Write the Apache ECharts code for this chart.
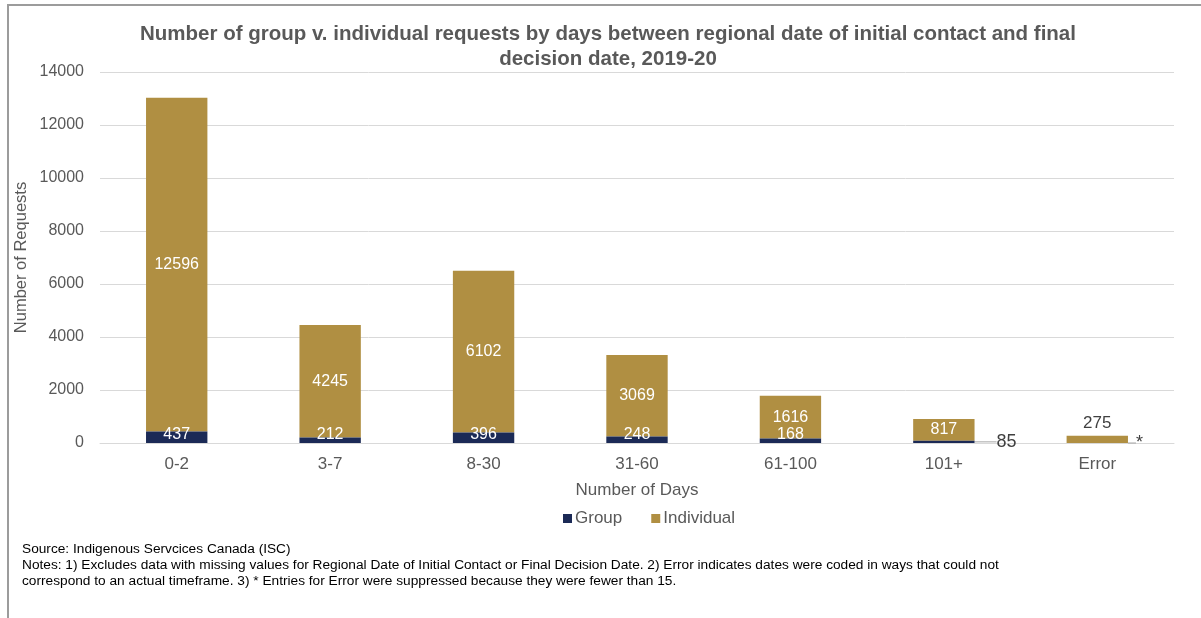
<!DOCTYPE html>
<html>
<head>
<meta charset="utf-8">
<title>Group v. individual requests by days, 2019-20</title>
<script src="https://cdn.jsdelivr.net/npm/echarts@6/dist/echarts.min.js"></script>
<style>
  html, body { margin: 0; padding: 0; background: #fff; }
  #wrap { position: relative; width: 1201px; height: 618px; overflow: hidden; }
  #chart { position: absolute; left: 0; top: 0; width: 1201px; height: 618px; }
  #frame {
    position: absolute; left: 7px; top: 4px; right: 0; bottom: 0;
    border-top: 2px solid #9c9c9c; border-left: 2px solid #9c9c9c;
    pointer-events: none;
  }
</style>
</head>
<body>
<div id="wrap">
  <div id="chart"></div>
  <div id="frame"></div>
</div>
<script>
// Days between regional date of initial contact and final decision date
const categories = ['0-2', '3-7', '8-30', '31-60', '61-100', '101+', 'Error'];
// Group requests (Error entries suppressed, shown as *)
const groupValues = [437, 212, 396, 248, 168, 85, 0];
// Individual requests
const individualValues = [12596, 4245, 6102, 3069, 1616, 817, 275];
const yTicks = { min: 0, max: 14000, interval: 2000 };

const FONT = '"Liberation Sans", Arial, sans-serif';
const GREY = '#595959';
const NAVY = '#1b2a56';
const GOLD = '#b08f42';

const chart = echarts.init(document.getElementById('chart'), null, { renderer: 'canvas' });

// Small group values sit outside their bars, joined by a leader line
const outsideShift = { '101+': 20, 'Error': 6 };

const groupData = groupValues.map((v, i) => {
  const item = { value: v };
  if (outsideShift[categories[i]] !== undefined) {
    item.label = {
      position: 'right',
      distance: 2,
      color: '#404040',
      fontSize: 18
    };
    item.labelLine = { show: true, lineStyle: { color: '#a6a6a6', width: 1 } };
  }
  return item;
});

const individualData = individualValues.map((v, i) => {
  const item = { value: v };
  if (categories[i] === 'Error') {
    item.label = { position: 'top', color: '#404040', distance: 4, fontSize: 17 };
  }
  return item;
});

chart.setOption({
  animation: false,
  textStyle: { fontFamily: FONT },
  title: {
    text: 'Number of group v. individual requests by days between regional date of initial contact and final\ndecision date, 2019-20',
    left: 603,
    top: 17,
    textAlign: 'center',
    textStyle: {
      fontFamily: FONT, fontSize: 20.5, fontWeight: 'bold', color: GREY, lineHeight: 25
    }
  },
  legend: {
    data: ['Group', 'Individual'],
    left: 558,
    top: 505,
    icon: 'rect',
    itemWidth: 9,
    itemHeight: 9,
    itemGap: 29,
    textStyle: { fontFamily: FONT, fontSize: 17, color: GREY, padding: [0, 0, 0, -2] }
  },
  grid: { left: 100, right: 27, top: 72, bottom: 175, containLabel: false },
  xAxis: {
    type: 'category',
    data: categories,
    name: 'Number of Days',
    nameLocation: 'middle',
    nameGap: 39,
    nameTextStyle: { fontFamily: FONT, fontSize: 17, color: GREY },
    axisLine: { lineStyle: { color: '#d9d9d9', width: 1 } },
    axisTick: { show: false },
    axisLabel: { fontFamily: FONT, fontSize: 17, color: GREY, margin: 13 }
  },
  yAxis: {
    type: 'value',
    min: yTicks.min,
    max: yTicks.max,
    interval: yTicks.interval,
    name: 'Number of Requests',
    nameLocation: 'middle',
    nameGap: 70,
    nameMoveOverlap: false,
    nameRotate: 90,
    nameTextStyle: { fontFamily: FONT, fontSize: 16.5, color: GREY },
    axisLine: { show: false },
    axisTick: { show: false },
    axisLabel: {
      fontFamily: FONT, fontSize: 16, color: GREY, margin: 16,
      formatter: v => String(v)
    },
    splitLine: { lineStyle: { color: '#d9d9d9', width: 1 } }
  },
  series: [
    {
      name: 'Group',
      type: 'bar',
      stack: 'total',
      barWidth: '40%',
      itemStyle: { color: NAVY },
      data: groupData,
      label: {
        show: true,
        position: 'insideBottom',
        distance: 0,
        color: '#ffffff',
        fontFamily: FONT,
        fontSize: 16,
        formatter: p => (categories[p.dataIndex] === 'Error' ? '*' : String(p.value))
      },
      labelLayout: p => {
        const shift = outsideShift[categories[p.dataIndex]];
        return shift !== undefined ? { dx: shift } : {};
      },
      labelLine: { show: false, lineStyle: { color: '#a6a6a6', width: 1 } },
      z: 3
    },
    {
      name: 'Individual',
      type: 'bar',
      stack: 'total',
      barWidth: '40%',
      itemStyle: { color: GOLD },
      data: individualData,
      label: {
        show: true,
        position: 'inside',
        color: '#ffffff',
        fontFamily: FONT,
        fontSize: 16
      },
      z: 2
    }
  ],
  graphic: [
    {
      type: 'text',
      left: 22,
      top: 541,
      style: {
        text: 'Source: Indigenous Servcices Canada (ISC)\n' +
              'Notes: 1) Excludes data with missing values for Regional Date of Initial Contact or Final Decision Date. 2) Error indicates dates were coded in ways that could not\n' +
              'correspond to an actual timeframe. 3) * Entries for Error were suppressed because they were fewer than 15.',
        font: '13.7px ' + FONT,
        fill: '#000000',
        lineHeight: 16
      }
    }
  ]
});
</script>
</body>
</html>
